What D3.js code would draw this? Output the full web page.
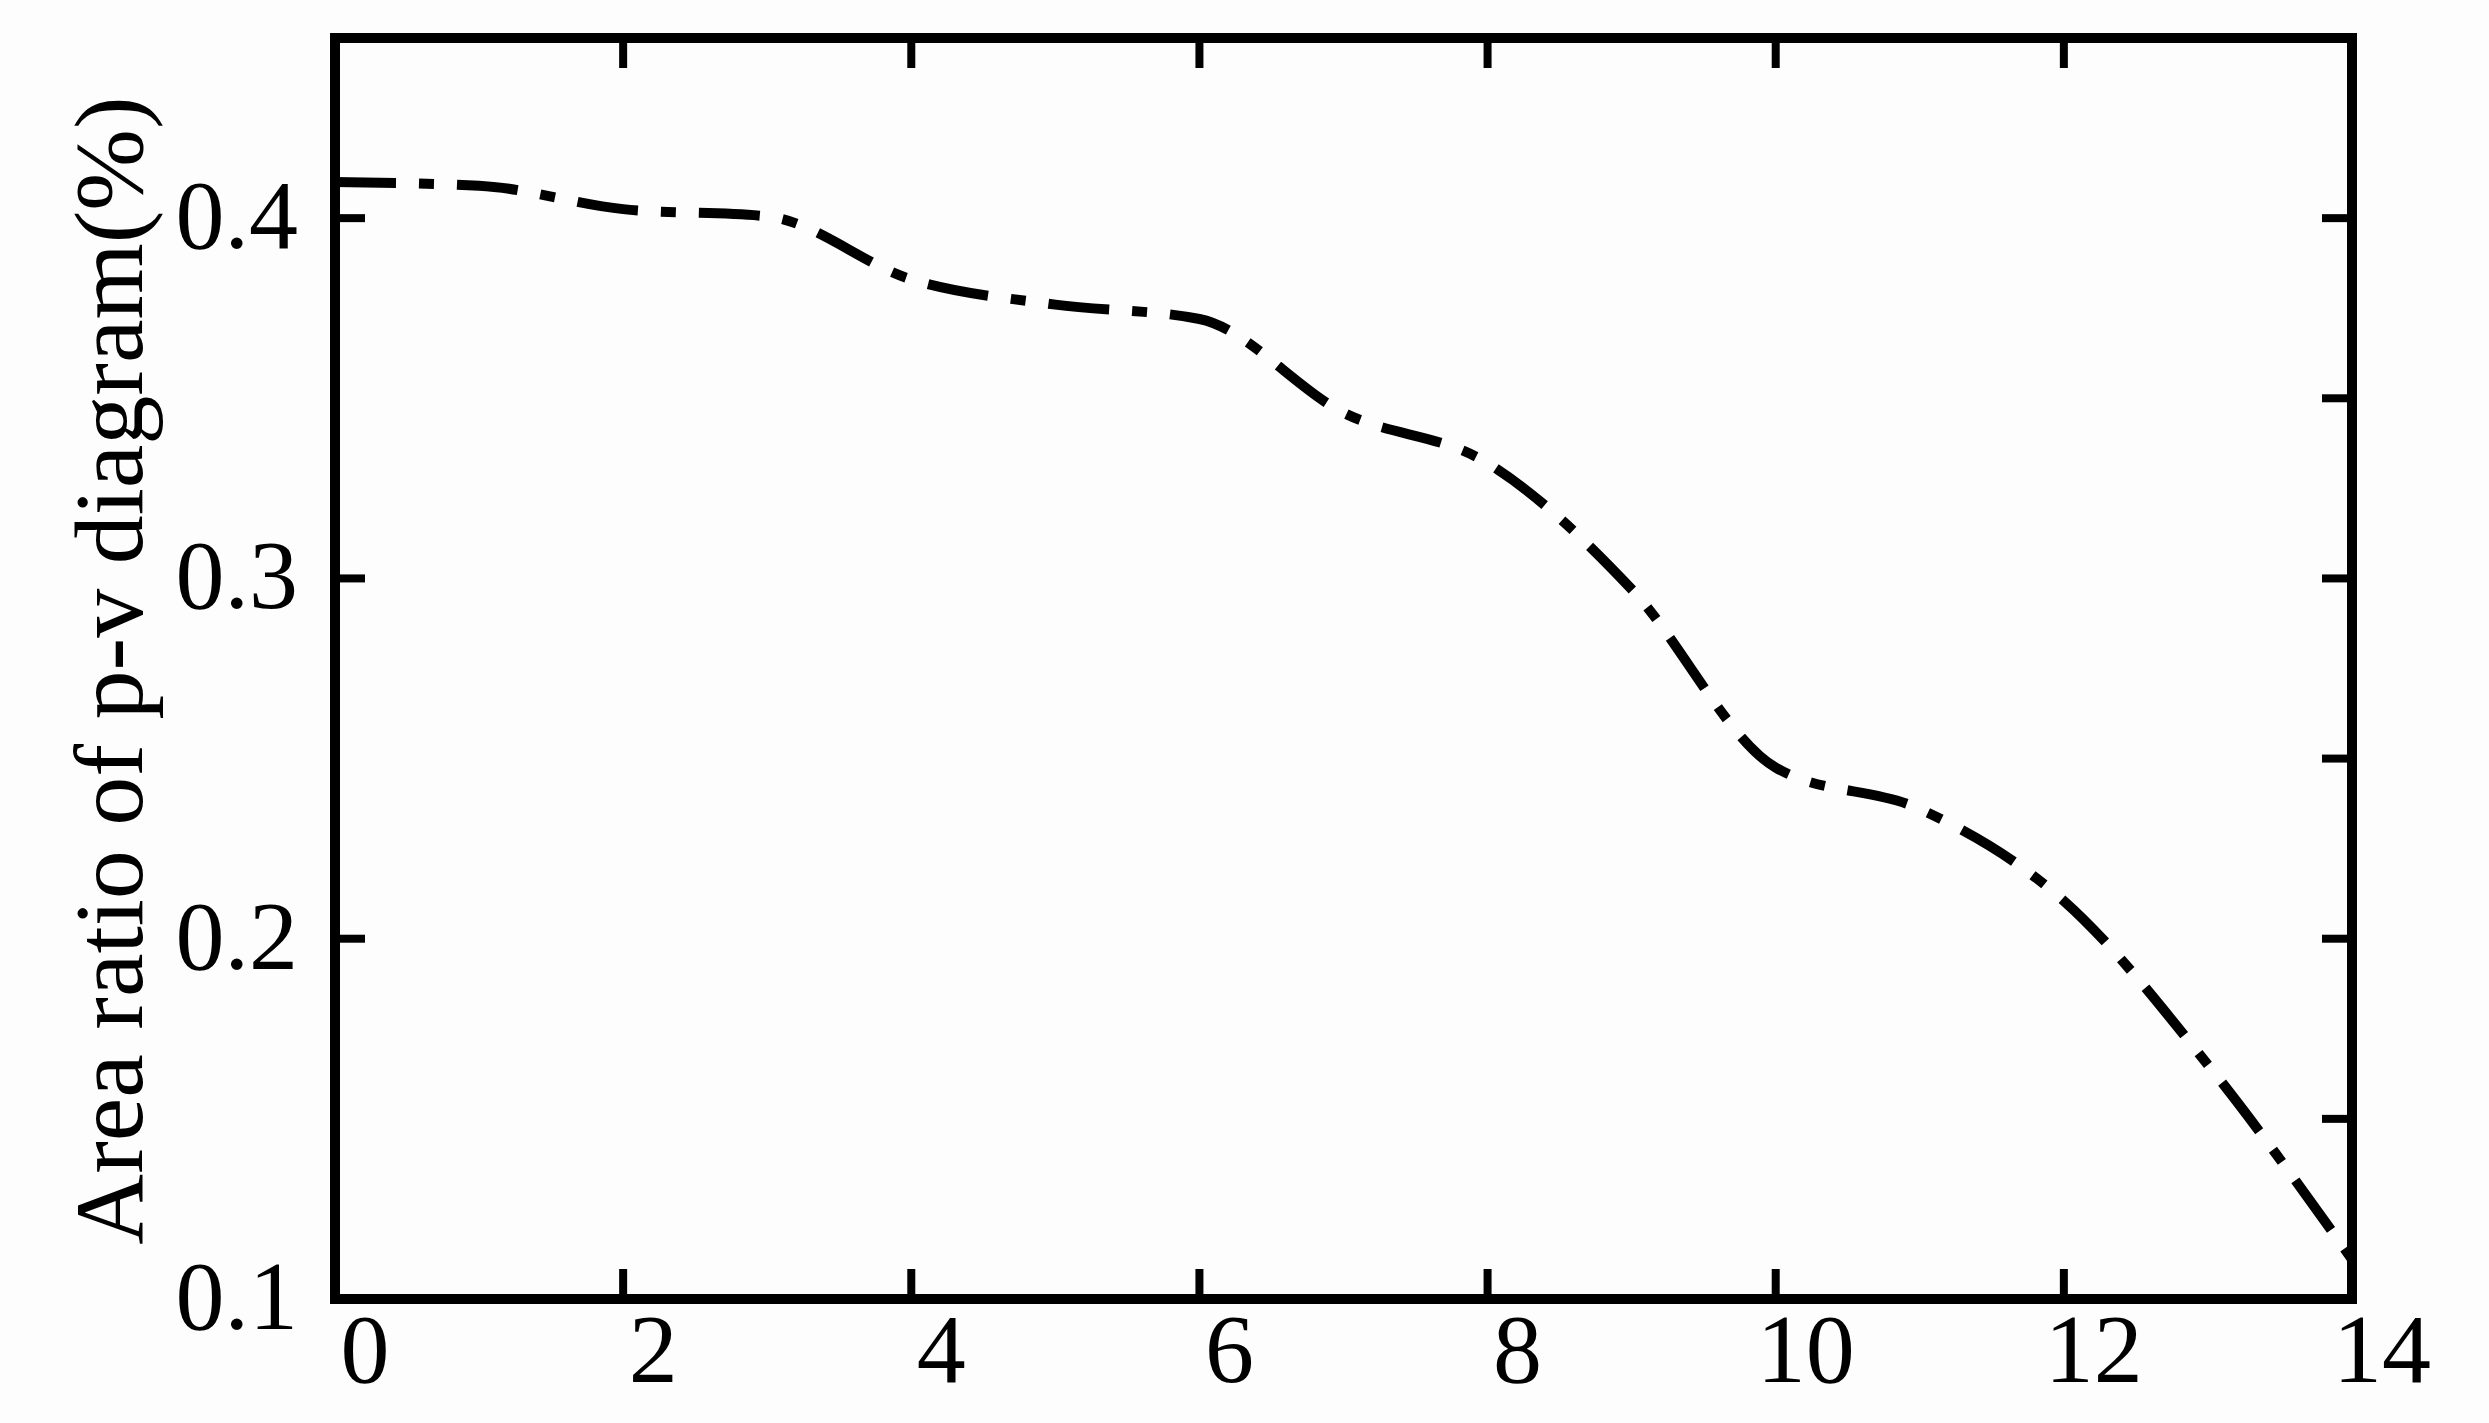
<!DOCTYPE html>
<html>
<head>
<meta charset="utf-8">
<script src="https://cdn.jsdelivr.net/npm/d3@7"></script>
<style>
  html, body { margin: 0; padding: 0; background: #fdfdfd; }
  svg { display: block; }
  text { font-family: "Liberation Serif", "Times New Roman", serif; fill: #000; }
</style>
</head>
<body>
<svg id="chart" width="2489" height="1423"></svg>
<script>
// ---- data ----
const xValues = [0, 1, 2, 3, 4, 5, 6, 7, 8, 9, 10, 11, 12, 13, 14];
const areaRatio = [0.410, 0.409, 0.4025, 0.4005, 0.383, 0.376, 0.372, 0.346, 0.332, 0.297, 0.2475, 0.236, 0.2105, 0.165, 0.111];
const xTickLabels = [0, 2, 4, 6, 8, 10, 12, 14];
const yTickLabels = [0.1, 0.2, 0.3, 0.4];
const yRightTicks = [0.15, 0.2, 0.25, 0.3, 0.35, 0.4];
const xDomain = [0, 14];
const yDomain = [0.1, 0.45];
const yLabel = "Area ratio of p-v diagram(%)";

(function () {
  const svg = d3.select("#chart");
  const pLeft = 335, pRight = 2352, pTop = 38, pBottom = 1299;
  const x = d3.scaleLinear().domain(xDomain).range([pLeft, pRight]);
  const y = d3.scaleLinear().domain(yDomain).range([pBottom, pTop]);
  const tickLen = 30;

  // curve
  const line = d3.line()
    .x((d, i) => x(xValues[i]))
    .y(d => y(d))
    .curve(d3.curveMonotoneX);

  svg.append("path")
    .datum(areaRatio)
    .attr("d", line)
    .attr("fill", "none")
    .attr("stroke", "#000")
    .attr("stroke-width", 10)
    .attr("stroke-dasharray", "61,23,15,23");

  // ticks
  const inner = xTickLabels.filter(v => v > xDomain[0] && v < xDomain[1]);
  svg.append("g").selectAll("line").data(inner).join("line")
    .attr("x1", d => x(d)).attr("x2", d => x(d))
    .attr("y1", y(yDomain[0])).attr("y2", y(yDomain[0]) - tickLen)
    .attr("stroke", "#000").attr("stroke-width", 8);
  svg.append("g").selectAll("line").data(inner).join("line")
    .attr("x1", d => x(d)).attr("x2", d => x(d))
    .attr("y1", y(yDomain[1])).attr("y2", y(yDomain[1]) + tickLen)
    .attr("stroke", "#000").attr("stroke-width", 8);
  svg.append("g").selectAll("line").data(yTickLabels.filter(v => v > yDomain[0])).join("line")
    .attr("x1", x(xDomain[0])).attr("x2", x(xDomain[0]) + tickLen)
    .attr("y1", d => y(d)).attr("y2", d => y(d))
    .attr("stroke", "#000").attr("stroke-width", 8);
  svg.append("g").selectAll("line").data(yRightTicks).join("line")
    .attr("x1", x(xDomain[1])).attr("x2", x(xDomain[1]) - tickLen)
    .attr("y1", d => y(d)).attr("y2", d => y(d))
    .attr("stroke", "#000").attr("stroke-width", 8);

  // frame
  svg.append("rect")
    .attr("x", x(xDomain[0])).attr("y", y(yDomain[1]))
    .attr("width", x(xDomain[1]) - x(xDomain[0]))
    .attr("height", y(yDomain[0]) - y(yDomain[1]))
    .attr("fill", "none").attr("stroke", "#000").attr("stroke-width", 10);

  // tick labels
  svg.append("g").selectAll("text").data(xTickLabels).join("text")
    .attr("x", d => x(d) + 30)
    .attr("y", 1382)
    .attr("text-anchor", "middle")
    .attr("font-size", 98)
    .text(d => d);

  svg.append("g").selectAll("text").data(yTickLabels).join("text")
    .attr("x", 298)
    .attr("y", d => y(d) + 30)
    .attr("text-anchor", "end")
    .attr("font-size", 98)
    .text(d => d.toFixed(1));

  // axis title
  svg.append("text")
    .attr("transform", `translate(142, ${(pTop + pBottom) / 2 + 2}) rotate(-90)`)
    .attr("text-anchor", "middle")
    .attr("font-size", 98)
    .text(yLabel);
})();
</script>
</body>
</html>
